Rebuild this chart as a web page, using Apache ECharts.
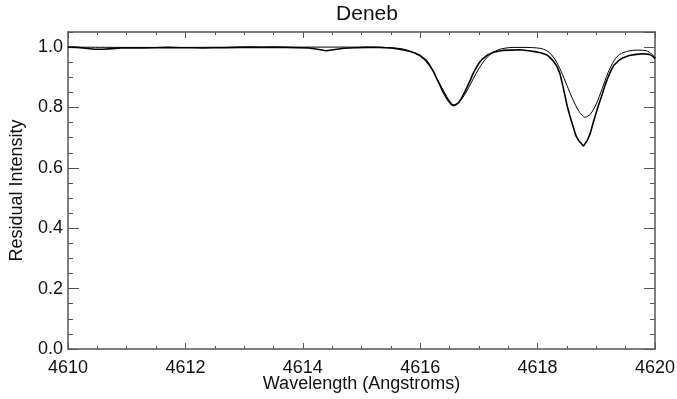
<!DOCTYPE html>
<html>
<head>
<meta charset="utf-8">
<script src="https://cdn.jsdelivr.net/npm/echarts@6.0.0/dist/echarts.min.js"></script>
<style>
  html, body { margin: 0; padding: 0; background: #fff; }
  #chart { width: 677px; height: 399px; }
</style>
</head>
<body>
<div id="chart"></div>
<script>
// observed spectrum (thick line)
var obsWave = [
  4610.00, 4610.15, 4610.30, 4610.45, 4610.60, 4610.75, 4610.90, 4611.10, 4611.30, 4611.50,
  4611.70, 4611.90, 4612.10, 4612.30, 4612.50, 4612.70, 4612.90, 4613.10, 4613.30, 4613.50,
  4613.70, 4613.90, 4614.10, 4614.25, 4614.40, 4614.55, 4614.70, 4614.90, 4615.10, 4615.30,
  4615.50, 4615.65, 4615.80, 4615.90, 4616.00, 4616.10, 4616.17, 4616.23, 4616.28, 4616.34,
  4616.39, 4616.44, 4616.48, 4616.52, 4616.56, 4616.60, 4616.65, 4616.70, 4616.75, 4616.80,
  4616.85, 4616.90, 4616.95, 4617.00, 4617.07, 4617.15, 4617.25, 4617.40, 4617.55, 4617.70,
  4617.85, 4617.95, 4618.05, 4618.15, 4618.21, 4618.27, 4618.33, 4618.38, 4618.42, 4618.46,
  4618.50, 4618.55, 4618.60, 4618.65, 4618.70, 4618.74, 4618.78, 4618.81, 4618.85, 4618.90,
  4618.95, 4619.00, 4619.05, 4619.10, 4619.15, 4619.20, 4619.25, 4619.30, 4619.38, 4619.46,
  4619.56, 4619.68, 4619.80, 4619.90, 4619.96, 4620.00
];
var obsFlux = [
  1.000, 0.999, 0.996, 0.993, 0.993, 0.995, 0.997, 0.998, 0.997, 0.998,
  0.999, 0.998, 0.998, 0.997, 0.998, 0.998, 0.999, 1.000, 0.999, 1.000,
  0.999, 0.998, 0.997, 0.993, 0.988, 0.992, 0.996, 0.998, 0.999, 0.999,
  0.997, 0.993, 0.987, 0.981, 0.972, 0.957, 0.938, 0.918, 0.896, 0.872,
  0.851, 0.834, 0.822, 0.812, 0.806, 0.808, 0.815, 0.829, 0.848, 0.868,
  0.889, 0.912, 0.930, 0.947, 0.962, 0.974, 0.983, 0.989, 0.990, 0.991,
  0.988, 0.985, 0.981, 0.975, 0.966, 0.953, 0.936, 0.912, 0.880, 0.845,
  0.808, 0.772, 0.740, 0.708, 0.690, 0.682, 0.672, 0.676, 0.692, 0.716,
  0.752, 0.784, 0.815, 0.843, 0.874, 0.900, 0.922, 0.940, 0.955, 0.965,
  0.972, 0.976, 0.978, 0.976, 0.970, 0.962
];

// model spectrum (thin line)
var modWave = [
  4610.0, 4611.0, 4612.0, 4613.0, 4614.0, 4615.0, 4615.5, 4615.7, 4615.85, 4616.0,
  4616.1, 4616.2, 4616.3, 4616.4, 4616.5, 4616.57, 4616.65, 4616.75, 4616.85, 4616.95,
  4617.05, 4617.15, 4617.25, 4617.4, 4617.6, 4617.8, 4618.0, 4618.1, 4618.2, 4618.3,
  4618.4, 4618.5, 4618.6, 4618.7, 4618.81, 4618.9, 4619.0, 4619.1, 4619.2, 4619.3,
  4619.4, 4619.55, 4619.7, 4619.85, 4619.95, 4620.0
];
var modFlux = [
  1.000, 0.999, 0.999, 1.000, 1.000, 1.000, 0.998, 0.994, 0.985, 0.970,
  0.952, 0.926, 0.891, 0.854, 0.822, 0.809, 0.816, 0.840, 0.875, 0.912,
  0.944, 0.968, 0.984, 0.995, 0.999, 0.999, 0.997, 0.993, 0.982, 0.958,
  0.920, 0.873, 0.827, 0.789, 0.768, 0.778, 0.812, 0.862, 0.915, 0.954,
  0.976, 0.987, 0.990, 0.988, 0.976, 0.965
];

var xMin = 4610, xMax = 4620;
var yMin = 0, yMax = 1.05;

var font = 'Liberation Sans, Arial, Helvetica, sans-serif';
var axisColor = '#555';

function pairs(xs, ys) {
  return xs.map(function (x, i) { return [x, ys[i]]; });
}

function xAx(pos, interval, len, main) {
  return {
    type: 'value', position: pos, min: xMin, max: xMax, interval: interval,
    axisLine: { show: main, onZero: false, lineStyle: { color: axisColor, width: 1.5 } },
    axisTick: { show: true, inside: true, length: len, lineStyle: { color: axisColor, width: 1 } },
    axisLabel: {
      show: main && pos === 'bottom', color: '#111', fontSize: 18, fontFamily: font, margin: 10,
      formatter: function (v) { return String(v); }
    },
    splitLine: { show: false },
    name: (main && pos === 'bottom') ? 'Wavelength (Angstroms)' : '',
    nameLocation: 'middle', nameGap: 26, nameMoveOverlap: false,
    nameTextStyle: { color: '#111', fontSize: 18, fontFamily: font }
  };
}

function yAx(pos, interval, len, main) {
  return {
    type: 'value', position: pos, min: yMin, max: yMax, interval: interval,
    axisLine: { show: main, onZero: false, lineStyle: { color: axisColor, width: 1.5 } },
    axisTick: { show: true, inside: true, length: len, lineStyle: { color: axisColor, width: 1 } },
    axisLabel: {
      show: main && pos === 'left', color: '#111', fontSize: 18, fontFamily: font, margin: 5,
      showMaxLabel: false,
      formatter: function (v) { return v.toFixed(1); }
    },
    splitLine: { show: false },
    name: (main && pos === 'left') ? 'Residual Intensity' : '',
    nameLocation: 'middle', nameGap: 42, nameMoveOverlap: false,
    nameTextStyle: { color: '#111', fontSize: 18, fontFamily: font }
  };
}

var chart = echarts.init(document.getElementById('chart'));
chart.setOption({
  animation: false,
  backgroundColor: '#fff',
  title: {
    text: 'Deneb',
    left: 362, top: -1, textAlign: 'center',
    textStyle: { color: '#111', fontSize: 21, fontWeight: 'normal', fontFamily: font }
  },
  grid: { left: 68, right: 22, top: 32, bottom: 50, outerBoundsMode: 'none', containLabel: false },
  xAxis: [
    xAx('bottom', 2, 6, true),
    xAx('bottom', 0.5, 3, false),
    xAx('top', 2, 6, true),
    xAx('top', 0.5, 3, false)
  ],
  yAxis: [
    yAx('left', 0.2, 11, true),
    yAx('left', 0.05, 5, false),
    yAx('right', 0.2, 11, true),
    yAx('right', 0.05, 5, false)
  ],
  series: [
    {
      name: 'Model', type: 'line', xAxisIndex: 0, yAxisIndex: 0,
      showSymbol: false, smooth: 0.3,
      lineStyle: { color: '#000', width: 1 },
      data: pairs(modWave, modFlux)
    },
    {
      name: 'Observed', type: 'line', xAxisIndex: 0, yAxisIndex: 0,
      showSymbol: false,
      lineStyle: { color: '#000', width: 1.6 },
      data: pairs(obsWave, obsFlux)
    }
  ]
});
</script>
</body>
</html>
